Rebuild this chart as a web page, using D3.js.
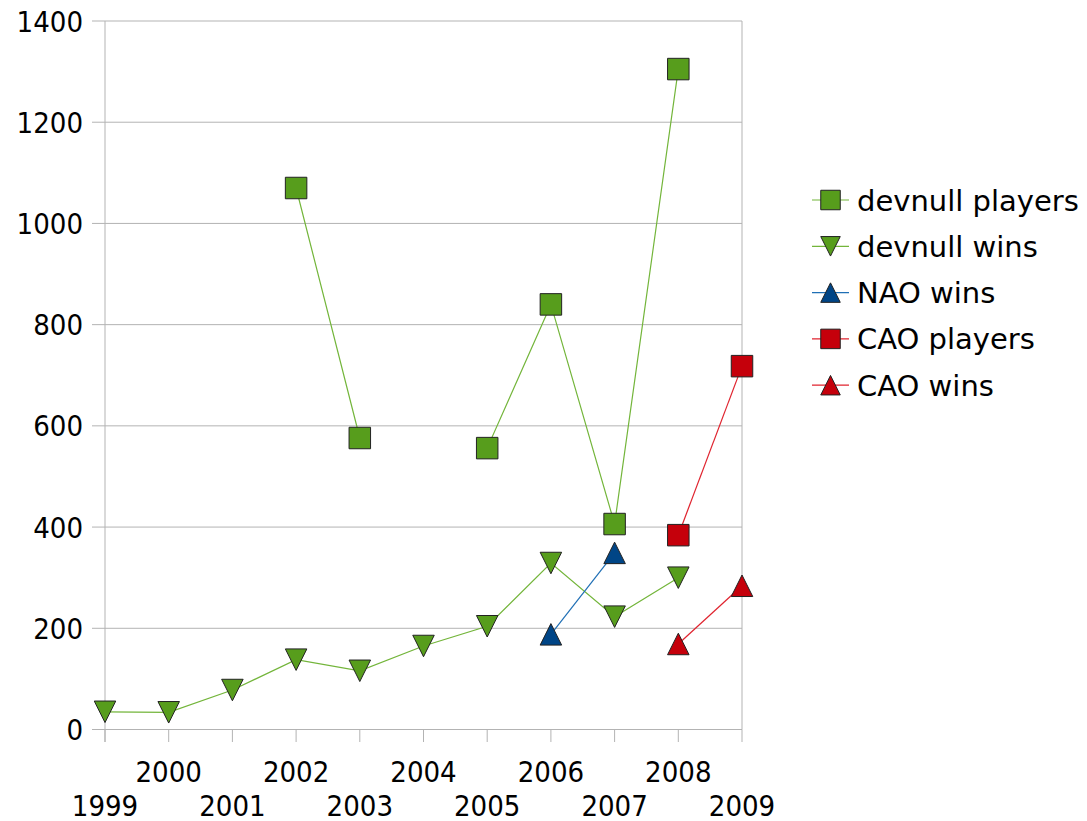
<!DOCTYPE html>
<html><head><meta charset="utf-8">
<script src="https://cdn.jsdelivr.net/npm/d3@7"></script>
<style>body{margin:0;background:#fff;} svg{display:block;} text{font-family:"DejaVu Sans",sans-serif;fill:#000;}
.tick{font-family:"DejaVu Sans Condensed","DejaVu Sans",sans-serif;font-stretch:condensed;}</style>
</head><body>
<svg id="c" width="1087" height="821"></svg>
<script>
const years = [1999,2000,2001,2002,2003,2004,2005,2006,2007,2008,2009];
const yTicks = [0,200,400,600,800,1000,1200,1400];
const devnullPlayers = [null,null,null,1070,576,null,556,840,406,1305,null];
const devnullWins = [35,34,78,138,116,165,204,329,223,300,null];
const naoWins = [null,null,null,null,null,null,null,188,349,null,null];
const caoPlayers = [null,null,null,null,null,null,null,null,null,384,718];
const caoWins = [null,null,null,null,null,null,null,null,null,169,284];

const series = [
  {name:"devnull players", values:devnullPlayers, fill:"#579d1c", line:"#73b53a", shape:"square"},
  {name:"devnull wins", values:devnullWins, fill:"#579d1c", line:"#73b53a", shape:"down"},
  {name:"NAO wins", values:naoWins, fill:"#004586", line:"#1f6fb5", shape:"up"},
  {name:"CAO players", values:caoPlayers, fill:"#c5000b", line:"#e0232e", shape:"square"},
  {name:"CAO wins", values:caoWins, fill:"#c5000b", line:"#e0232e", shape:"up"}
];

const svg = d3.select("#c");
const L=105, R=742, T=21, B=729.5;
const x = d3.scaleLinear().domain([1999,2009]).range([L,R]);
const y = d3.scaleLinear().domain([0,1400]).range([B,T]);

svg.append("g").selectAll("line").data(yTicks).join("line")
  .attr("x1",92).attr("x2",R).attr("y1",d=>y(d)).attr("y2",d=>y(d))
  .attr("stroke","#b3b3b3").attr("stroke-width",1);
svg.append("line").attr("x1",R).attr("x2",R).attr("y1",T).attr("y2",B).attr("stroke","#b3b3b3");
svg.append("line").attr("x1",L).attr("x2",L).attr("y1",T).attr("y2",742).attr("stroke","#b3b3b3");
svg.append("g").selectAll("line").data(years).join("line")
  .attr("x1",d=>x(d)).attr("x2",d=>x(d)).attr("y1",B).attr("y2",742)
  .attr("stroke","#b3b3b3");
svg.append("g").selectAll("text").data(yTicks).join("text").attr("class","tick")
  .attr("x",83).attr("y",d=>y(d)+10.5).attr("text-anchor","end")
  .style("font-size","29px").text(d=>d);
svg.append("g").selectAll("text").data(years).join("text").attr("class","tick")
  .attr("x",d=>x(d)).attr("y",(d,i)=> i%2===0 ? 815.5 : 781.5).attr("text-anchor","middle")
  .style("font-size","29px").text(d=>d);

function shapePath(shape, s){
  const h=s/2;
  if(shape==="square") return `M${-h},${-h}H${h}V${h}H${-h}Z`;
  if(shape==="down") return `M${-h},${-h}H${h}L0,${h}Z`;
  return `M0,${-h}L${h},${h}H${-h}Z`;
}

series.forEach(s=>{
  const pts = years.map((yr,i)=>({yr, v:s.values[i]}));
  const line = d3.line().defined(d=>d.v!=null).x(d=>x(d.yr)).y(d=>y(d.v));
  svg.append("path").attr("d",line(pts)).attr("fill","none").attr("stroke",s.line).attr("stroke-width",1.2);
});
series.forEach(s=>{
  const pts = years.map((yr,i)=>({yr, v:s.values[i]})).filter(d=>d.v!=null);
  svg.append("g").selectAll("path").data(pts).join("path")
    .attr("transform",d=>`translate(${x(d.yr)},${y(d.v)})`)
    .attr("d",shapePath(s.shape,21.5)).attr("fill",s.fill).attr("stroke","#222").attr("stroke-width",1);
});

const lg = svg.append("g");
series.forEach((s,i)=>{
  const cy = 200 + i*46.3;
  lg.append("line").attr("x1",812).attr("x2",849).attr("y1",cy).attr("y2",cy).attr("stroke",s.line).attr("stroke-width",1.2);
  lg.append("path").attr("transform",`translate(830.5,${cy})`).attr("d",shapePath(s.shape,19.5))
    .attr("fill",s.fill).attr("stroke","#222").attr("stroke-width",1);
  lg.append("text").attr("x",857).attr("y",cy+10.5).style("font-size","29px").text(s.name);
});
</script>
</body></html>
